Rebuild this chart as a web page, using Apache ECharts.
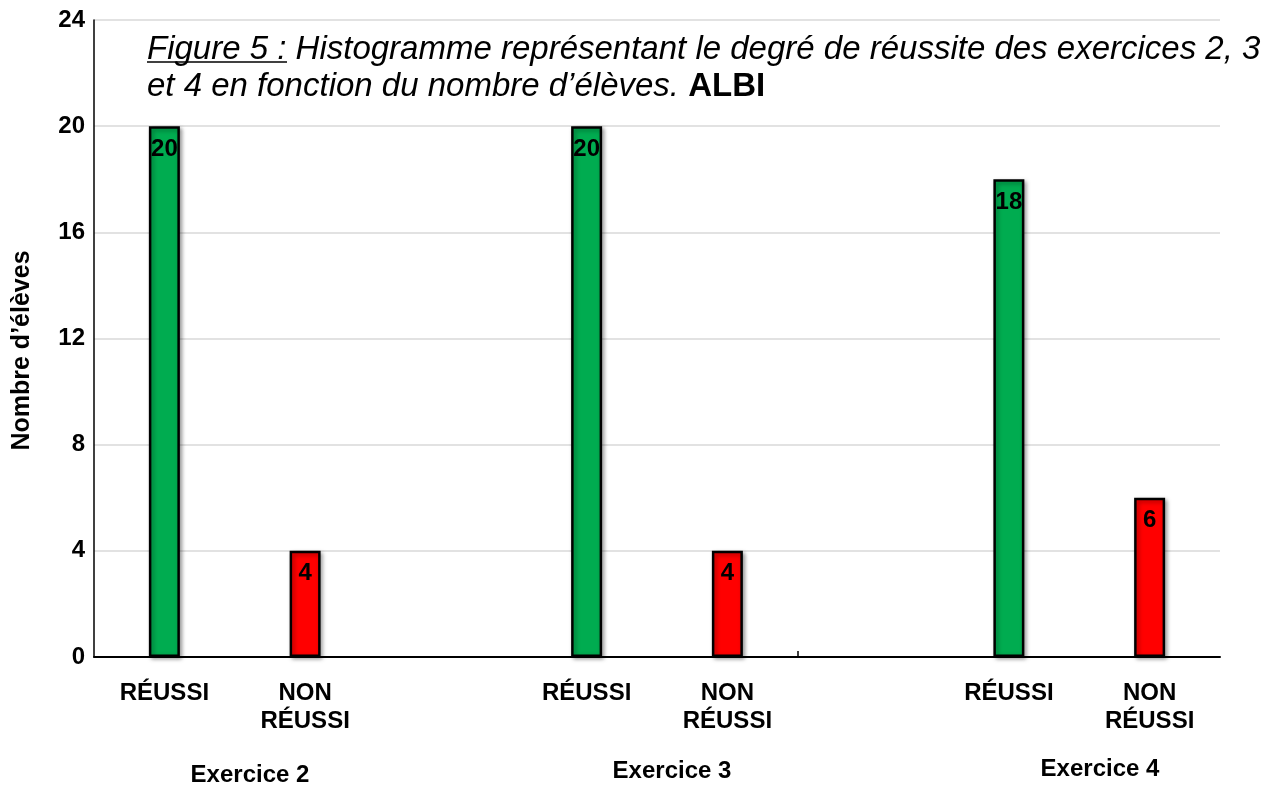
<!DOCTYPE html>
<html><head><meta charset="utf-8">
<script src="https://cdn.jsdelivr.net/npm/echarts@6/dist/echarts.min.js"></script>
<style>html,body{margin:0;padding:0;background:#fff}#c{width:1277px;height:788px}</style>
</head><body><div id="c"></div>
<script>
const categories = ['RÉUSSI', 'NON\nRÉUSSI', '', 'RÉUSSI', 'NON\nRÉUSSI', '', 'RÉUSSI', 'NON\nRÉUSSI'];
const exercises = ['Exercice 2', 'Exercice 3', 'Exercice 4'];
const reussi = [20, 20, 18];
const nonReussi = [4, 4, 6];
const yTicks = [0, 4, 8, 12, 16, 20, 24];

const data = [];
exercises.forEach((e, i) => {
  data.push({ value: reussi[i], itemStyle: { color: '#00ac50' } });
  data.push({ value: nonReussi[i], itemStyle: { color: '#ff0000' } });
  if (i < exercises.length - 1) data.push('-');
});

const chart = echarts.init(document.getElementById('c'));
const font = 'Liberation Sans, Arial, sans-serif';
chart.setOption({
  animation: false,
  grid: { left: 94, right: 57, top: 20, bottom: 131, containLabel: false },
  xAxis: [{
    type: 'category', data: categories,
    axisLine: { lineStyle: { color: '#000', width: 2 } },
    axisTick: { show: false },
    axisLabel: { color: '#000', fontFamily: font, fontWeight: 'bold', fontSize: 24, lineHeight: 28, margin: 22, interval: 0 }
  }, {
    type: 'value', min: 0, max: categories.length, position: 'bottom',
    axisLine: { show: false },
    axisTick: { show: true, inside: true, length: 6, customValues: [5], lineStyle: { color: '#000', width: 1.5 } },
    axisLabel: { show: false },
    splitLine: { show: false }
  }],
  yAxis: {
    type: 'value', min: 0, max: 24, interval: 4,
    name: 'Nombre d’élèves', nameLocation: 'middle', nameGap: 59, nameRotate: 90,
    nameTextStyle: { color: '#000', fontFamily: font, fontWeight: 'bold', fontSize: 25, padding: [0, 24, 0, 0] },
    axisLine: { show: true, lineStyle: { color: '#000', width: 1.5 } },
    axisTick: { show: false },
    splitLine: { lineStyle: { color: '#d9d9d9', width: 1.5 } },
    axisLabel: { color: '#000', fontFamily: font, fontWeight: 'bold', fontSize: 24, margin: 9,
      formatter: v => yTicks.includes(v) ? String(v) : '' }
  },
  series: [{
    type: 'bar', data: data, barWidth: 31, xAxisIndex: 0,
    itemStyle: { borderColor: '#000', borderWidth: 2.5, shadowColor: 'rgba(0,0,0,0.35)', shadowBlur: 4, shadowOffsetX: 2, shadowOffsetY: 2 },
    label: { show: true, position: 'insideTop', distance: 11, color: '#000', fontFamily: font, fontWeight: 'bold', fontSize: 24 }
  }],
  graphic: [
    { type: 'text', x: 147, y: 50, style: { text: 'Figure 5 : Histogramme représentant le degré de réussite des exercices 2, 3', fontFamily: font, fontStyle: 'italic', fontSize: 33, fill: '#000', verticalAlign: 'middle' } },
    { type: 'line', shape: { x1: 147, y1: 62, x2: 287, y2: 62 }, style: { stroke: '#000', lineWidth: 1.5 } },
    { type: 'text', x: 147, y: 87, style: {
        text: '{i|et 4 en fonction du nombre d’élèves. }{b|ALBI}', verticalAlign: 'middle',
        rich: { i: { fontFamily: font, fontStyle: 'italic', fontSize: 33, fill: '#000' }, b: { fontFamily: font, fontWeight: 'bold', fontSize: 33, fill: '#000' } } } },
    { type: 'text', x: 250, y: 775, style: { text: exercises[0], fontFamily: font, fontWeight: 'bold', fontSize: 24, fill: '#000', align: 'center', verticalAlign: 'middle' } },
    { type: 'text', x: 672, y: 771, style: { text: exercises[1], fontFamily: font, fontWeight: 'bold', fontSize: 24, fill: '#000', align: 'center', verticalAlign: 'middle' } },
    { type: 'text', x: 1100, y: 769, style: { text: exercises[2], fontFamily: font, fontWeight: 'bold', fontSize: 24, fill: '#000', align: 'center', verticalAlign: 'middle' } }
  ]
});
</script></body></html>
